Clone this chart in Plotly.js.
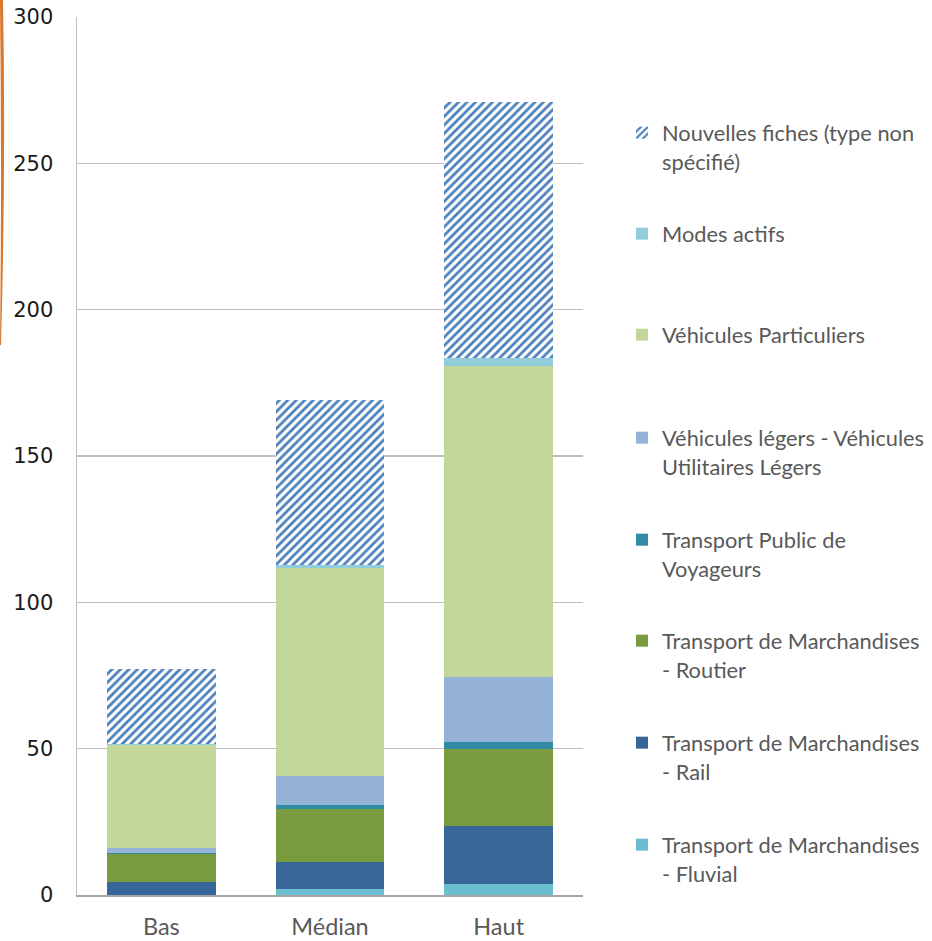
<!DOCTYPE html>
<html>
<head>
<meta charset="utf-8">
<script src="https://cdn.plot.ly/plotly-3.0.1.min.js"></script>
<style>
  html, body { margin: 0; padding: 0; background: #ffffff; }
  #chart { width: 932px; height: 941px; }
</style>
</head>
<body>
<div id="chart"></div>
<script>
// Scenario categories
const scenarios = ['Bas', 'Médian', 'Haut'];

// Stacked values per segment (bottom to top)
const fluvial      = [0.0, 1.9, 3.6];
const rail         = [4.6, 9.3, 19.9];
const routier      = [9.5, 18.1, 26.3];
const transportPub = [0.3, 1.4, 2.5];
const vehLegers    = [1.5, 10.1, 22.2];
const vehPart      = [35.2, 70.9, 106.4];
const modesActifs  = [0.5, 1.0, 2.6];
const nouvelles    = [25.7, 56.4, 87.4];

// Series names as shown in the legend
const names = {
  fluvial: 'Transport de Marchandises<br>- Fluvial',
  rail: 'Transport de Marchandises<br>- Rail',
  routier: 'Transport de Marchandises<br>- Routier',
  transportPub: 'Transport Public de<br>Voyageurs',
  vehLegers: 'Véhicules légers - Véhicules<br>Utilitaires Légers',
  vehPart: 'Véhicules Particuliers',
  modesActifs: 'Modes actifs',
  nouvelles: 'Nouvelles fiches (type non<br>spécifié)'
};

// Plot-area geometry (pixels) used to place the per-series legends
const W = 932, H = 941;
const M = { l: 77, r: 349, t: 17, b: 46, autoexpand: false };
const plotW = W - M.l - M.r, plotH = H - M.t - M.b;
const px2x = px => (px - M.l) / plotW;
const py2y = py => (H - M.b - py) / plotH;

const legendFont = { family: 'Lato, "Open Sans", sans-serif', size: 21.8, color: '#595959' };
const LEG_LEFT = 622;
const LEG_OFFSET = 21;
function legendAt(lineCenterPx) {
  return {
    x: px2x(LEG_LEFT), xanchor: 'left',
    y: py2y(lineCenterPx - LEG_OFFSET), yanchor: 'top',
    bgcolor: 'rgba(0,0,0,0)', borderwidth: 0,
    font: legendFont, valign: 'top', itemclick: false, itemdoubleclick: false
  };
}

function bar(values, name, color, legendId, extra) {
  const t = {
    type: 'bar', x: scenarios, y: values, name: name,
    marker: Object.assign({ color: color, line: { width: 0 } }, extra || {}),
    legend: legendId, hoverinfo: 'y+name'
  };
  return t;
}

const data = [
  bar(fluvial, names.fluvial, '#6bbdd0', 'legend8'),
  bar(rail, names.rail, '#376699', 'legend7'),
  bar(routier, names.routier, '#7a9a40', 'legend6'),
  bar(transportPub, names.transportPub, '#318ba5', 'legend5'),
  bar(vehLegers, names.vehLegers, '#95b3d7', 'legend4'),
  bar(vehPart, names.vehPart, '#c4d79b', 'legend3'),
  bar(modesActifs, names.modesActifs, '#92cddc', 'legend2'),
  bar(nouvelles, names.nouvelles, '#4a7ebb', 'legend', {
    pattern: { shape: '/', fgcolor: '#4a7ebb', bgcolor: '#ffffff', size: 6, solidity: 0.45 }
  })
];

const layout = {
  width: W, height: H,
  margin: M,
  paper_bgcolor: '#ffffff', plot_bgcolor: '#ffffff',
  barmode: 'stack',
  bargap: 0.354,
  showlegend: true,
  legend:  legendAt(133),
  legend2: legendAt(234),
  legend3: legendAt(335),
  legend4: legendAt(438),
  legend5: legendAt(540),
  legend6: legendAt(641),
  legend7: legendAt(743),
  legend8: legendAt(845),
  xaxis: {
    type: 'category',
    showgrid: false, zeroline: false,
    showline: true, linecolor: '#a6a6a6', linewidth: 2,
    ticks: '', ticklabelstandoff: 10,
    tickfont: { family: 'Lato, "Open Sans", sans-serif', size: 23.5, color: '#595959' }
  },
  yaxis: {
    range: [0, 300], dtick: 50, tick0: 0,
    showgrid: true, gridcolor: '#bfbfbf', gridwidth: 1.5,
    zeroline: false,
    showline: true, linecolor: '#bfbfbf', linewidth: 1.5,
    ticks: '', ticklabelstandoff: 18,
    tickfont: { family: '"DejaVu Sans", sans-serif', size: 21, color: '#1a1a1a' }
  },
  shapes: [{
    // thin orange stroke along the left edge of the page
    type: 'path', xref: 'paper', yref: 'paper', layer: 'above',
    path: 'M ' + px2x(3) + ',' + py2y(0) +
          ' Q ' + px2x(6) + ',' + py2y(170) + ' ' + px2x(1) + ',' + py2y(345) +
          ' L ' + px2x(0) + ',' + py2y(345) +
          ' Q ' + px2x(2) + ',' + py2y(170) + ' ' + px2x(0) + ',' + py2y(0) + ' Z',
    fillcolor: '#d9772b', line: { width: 0 }
  }]
};

Plotly.newPlot('chart', data, layout, { displayModeBar: false, staticPlot: true });
</script>
</body>
</html>
